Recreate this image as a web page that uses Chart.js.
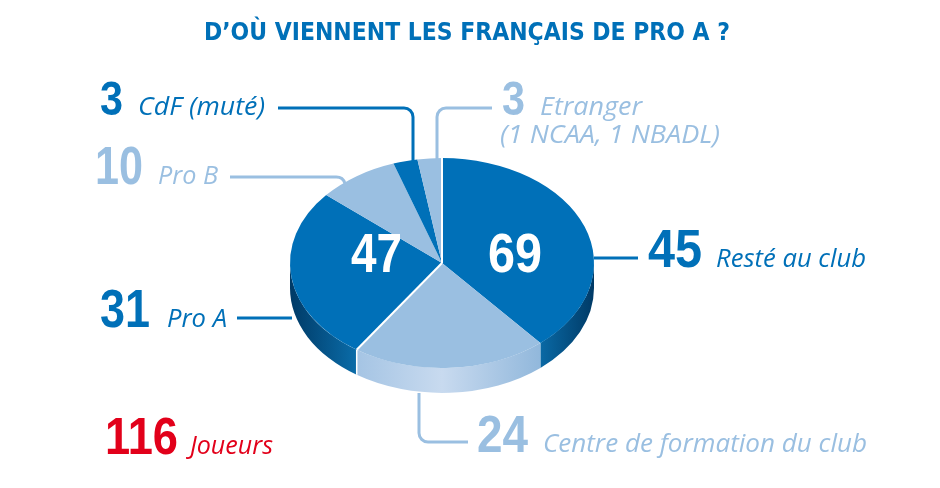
<!DOCTYPE html>
<html>
<head>
<meta charset="utf-8">
<title>D'où viennent les Français de Pro A ?</title>
<script src="https://cdn.jsdelivr.net/npm/chart.js@4.4.1/dist/chart.umd.min.js"></script>
<style>
  html, body { margin: 0; padding: 0; background: #fff; }
  canvas { display: block; }
</style>
</head>
<body>
<canvas id="pie-chart" width="940" height="488"></canvas>
<script>
// Data (slices clockwise from 12 o'clock)
const categories = ['Resté au club', 'Centre de formation du club', 'Pro A', 'Pro B', 'CdF (muté)', 'Etranger'];
const players = [45, 24, 31, 10, 3, 3];
const subLabels = ['', '', '', '', '', '(1 NCAA, 1 NBADL)'];
// the two groups printed on the pie: stayed at the club / came from elsewhere
const groups = [[0, 1], [2, 3, 4, 5]];
const totalLabel = 'Joueurs';
const titleText = 'D’OÙ VIENNENT LES FRANÇAIS DE PRO A ?';

const DARK = '#0070b8';
const LIGHT = '#9abfe1';
const RED = '#e2001a';
const sliceColors = [DARK, LIGHT, DARK, LIGHT, DARK, LIGHT];

const TILT = 0.69;   // vertical squash of the pie
const DEPTH = 25;    // thickness of the 3D side

const NUM_FONT = '"Liberation Sans Narrow", "Arial Narrow", sans-serif';
const TXT_FONT = '"Open Sans", "Noto Sans", sans-serif';

// where each slice label goes (number + text + leader line)
const labelLayout = [
    {x: 648, y: 267, numW: 54, txtX: 716, txtW: 150, size: 54, line: [[594, 258], [638, 258]]},
    {x: 477, y: 452, numW: 51, txtX: 543, txtW: 324, size: 51, line: [[419, 393], [419, 442], [468, 442]]},
    {x: 100, y: 327, numW: 50, txtX: 167, txtW: 60, size: 54, line: [[237, 318], [292, 318]]},
    {x: 95, y: 184, numW: 48, txtX: 158, txtW: 60, size: 54, line: [[230, 177], [343, 177], [347, 190]]},
    {x: 100, y: 115, numW: 23, txtX: 138, txtW: 127, size: 48, line: [[278, 108], [413, 108], [413, 162]]},
    {x: 502, y: 115, numW: 23, txtX: 540, txtW: 102, size: 48, line: [[492, 108], [437, 108], [437, 161]],
        sub: {x: 500, y: 143, w: 220}}
];
const groupLayout = [{x: 488, y: 272, w: 54}, {x: 351, y: 272, w: 51}];
const totalLayout = {x: 105, y: 454, numW: 73, txtX: 190, txtW: 83};

function sum(idx) {
    return idx.reduce((s, i) => s + players[i], 0);
}

// draw text stretched/squeezed to a given width
function fitText(ctx, text, x, y, width) {
    const w = ctx.measureText(text).width;
    ctx.save();
    ctx.translate(x, y);
    ctx.scale(width / w, 1);
    ctx.fillText(text, 0, 0);
    ctx.restore();
}

function roundedLine(ctx, pts, r) {
    ctx.beginPath();
    ctx.moveTo(pts[0][0], pts[0][1]);
    for (let i = 1; i < pts.length - 1; i++) {
        ctx.arcTo(pts[i][0], pts[i][1], pts[i + 1][0], pts[i + 1][1], r);
    }
    ctx.lineTo(pts[pts.length - 1][0], pts[pts.length - 1][1]);
    ctx.stroke();
}

const pie3d = {
    id: 'pie3d',
    beforeDatasetsDraw(chart) {
        const ctx = chart.ctx;
        const arcs = chart.getDatasetMeta(0).data;
        const {x, y, outerRadius} = arcs[0].getProps(['x', 'y', 'outerRadius'], true);
        const r = outerRadius, ry = r * TILT;

        const darkSide = ctx.createLinearGradient(x - r, 0, x + r, 0);
        darkSide.addColorStop(0, '#003a66');
        darkSide.addColorStop(0.21, '#0a6aa6');
        darkSide.addColorStop(0.82, '#0a6aa6');
        darkSide.addColorStop(1, '#003a66');
        const lightSide = ctx.createLinearGradient(x - r, 0, x + r, 0);
        lightSide.addColorStop(0.15, '#9cbfe1');
        lightSide.addColorStop(0.5, '#c8daef');
        lightSide.addColorStop(0.85, '#8db5da');

        ctx.save();
        arcs.forEach((arc, i) => {
            // only the front half (0..PI on the canvas) shows its side
            [0, 2 * Math.PI].forEach(shift => {
                const a1 = Math.max(arc.startAngle - shift, 0);
                const a2 = Math.min(arc.endAngle - shift, Math.PI);
                if (a2 <= a1) return;
                ctx.beginPath();
                ctx.ellipse(x, y, r, ry, 0, a1, a2);
                ctx.ellipse(x, y + DEPTH, r, ry, 0, a2, a1, true);
                ctx.closePath();
                ctx.fillStyle = sliceColors[i] === DARK ? darkSide : lightSide;
                ctx.fill();
            });
        });
        // white seam on the side where the two groups meet
        const seam = arcs[groups[1][0]].startAngle;
        if (seam > 0 && seam < Math.PI) {
            ctx.strokeStyle = '#fff';
            ctx.lineWidth = 1.5;
            ctx.beginPath();
            ctx.moveTo(x + r * Math.cos(seam), y + ry * Math.sin(seam));
            ctx.lineTo(x + r * Math.cos(seam), y + ry * Math.sin(seam) + DEPTH);
            ctx.stroke();
        }
        ctx.restore();

        // squash the top face into an ellipse
        ctx.save();
        ctx.translate(x, y);
        ctx.scale(1, TILT);
        ctx.translate(-x, -y);
    },
    afterDatasetsDraw(chart) {
        const ctx = chart.ctx;
        ctx.restore();
        const arcs = chart.getDatasetMeta(0).data;
        const {x, y, outerRadius} = arcs[0].getProps(['x', 'y', 'outerRadius'], true);
        const r = outerRadius, ry = r * TILT;
        // white lines between the two groups on the top face
        ctx.save();
        ctx.strokeStyle = '#fff';
        ctx.lineWidth = 2;
        groups.forEach(g => {
            const a = arcs[g[0]].startAngle;
            ctx.beginPath();
            ctx.moveTo(x, y);
            ctx.lineTo(x + r * Math.cos(a), y + ry * Math.sin(a));
            ctx.stroke();
        });
        ctx.restore();
    }
};

const annotations = {
    id: 'annotations',
    afterDraw(chart) {
        const ctx = chart.ctx;
        ctx.save();
        ctx.textAlign = 'left';
        ctx.textBaseline = 'alphabetic';

        // title
        ctx.fillStyle = DARK;
        ctx.font = 'bold 25px "DejaVu Sans Condensed", "DejaVu Sans", sans-serif';
        fitText(ctx, titleText, 204, 40, 526);

        // group totals on the pie
        ctx.fillStyle = '#fff';
        ctx.font = 'bold 55px ' + NUM_FONT;
        groups.forEach((g, k) => {
            const L = groupLayout[k];
            fitText(ctx, String(sum(g)), L.x, L.y, L.w);
        });

        // slice labels and leader lines
        categories.forEach((cat, i) => {
            const L = labelLayout[i];
            const col = sliceColors[i];
            ctx.strokeStyle = col;
            ctx.lineWidth = 3;
            roundedLine(ctx, L.line, 9);
            ctx.fillStyle = col;
            ctx.font = 'bold ' + L.size + 'px ' + NUM_FONT;
            fitText(ctx, String(players[i]), L.x, L.y, L.numW);
            ctx.font = 'italic 25px ' + TXT_FONT;
            fitText(ctx, cat, L.txtX, L.y, L.txtW);
            if (L.sub) {
                fitText(ctx, subLabels[i], L.sub.x, L.sub.y, L.sub.w);
            }
        });

        // total number of players
        const T = totalLayout;
        ctx.fillStyle = RED;
        ctx.font = 'bold 51px ' + NUM_FONT;
        fitText(ctx, String(sum(players.map((v, i) => i))), T.x, T.y, T.numW);
        ctx.font = 'italic 25px ' + TXT_FONT;
        fitText(ctx, totalLabel, T.txtX, T.y, T.txtW);
        ctx.restore();
    }
};

const pieChart = new Chart(document.getElementById('pie-chart'), {
    type: 'pie',
    data: {
        labels: categories,
        datasets: [{
            data: players,
            backgroundColor: sliceColors,
            borderWidth: 0
        }]
    },
    options: {
        responsive: false,
        animation: false,
        events: [],
        layout: {padding: {left: 290, right: 346, top: 111, bottom: 73}},
        plugins: {
            legend: {display: false},
            tooltip: {enabled: false},
            title: {display: false}
        }
    },
    plugins: [pie3d, annotations]
});
</script>
</body>
</html>
